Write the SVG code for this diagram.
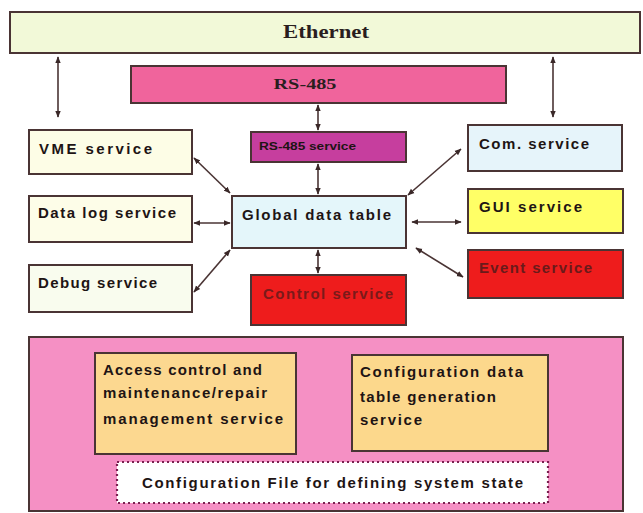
<svg xmlns="http://www.w3.org/2000/svg" width="643" height="513" viewBox="0 0 643 513">
<style>
.box{stroke:#4a3434;stroke-width:2}
.t{font-family:"Liberation Sans",Arial,sans-serif;font-weight:bold;font-size:15px;fill:#1e1414}
.s{font-family:"Liberation Serif","Times New Roman",serif;font-weight:bold;fill:#2a1e1e}
.c{stroke:#4a3434;stroke-width:1.6;fill:none;marker-start:url(#ah);marker-end:url(#ah)}
</style>
<defs>
<marker id="ah" viewBox="0 0 10 10" refX="9" refY="5" markerWidth="7" markerHeight="7" orient="auto-start-reverse" markerUnits="userSpaceOnUse">
<path d="M0,1 L10,5 L0,9 z" fill="#3a2828"/>
</marker>
</defs>
<rect width="643" height="513" fill="#ffffff"/>
<g id="ethernet"><rect class="box" x="10" y="12" width="630" height="41" fill="#f2f9d8"/><text class="s" x="326" y="38" font-size="18" text-anchor="middle" textLength="86" lengthAdjust="spacingAndGlyphs">Ethernet</text></g>
<g id="rs485"><rect class="box" x="131" y="66" width="375" height="37" fill="#f0649c"/><text class="s" x="305" y="89" font-size="15" text-anchor="middle" textLength="63" lengthAdjust="spacingAndGlyphs">RS-485</text></g>
<g id="rs485service"><rect class="box" x="251" y="132" width="155" height="30" fill="#c63e9e"/><text class="t" x="259" y="150" font-size="10" style="font-size:10px" textLength="97" lengthAdjust="spacingAndGlyphs">RS-485 service</text></g>
<g id="global"><rect class="box" x="232" y="196" width="174" height="52" fill="#e4f6fa"/><text class="t" x="242" y="220" textLength="149" lengthAdjust="spacing">Global data table</text></g>
<g id="control"><rect class="box" x="251" y="275" width="155" height="50" fill="#ee1c1c"/><text class="t" x="263" y="299" style="fill:#7a1a1a" textLength="130" lengthAdjust="spacing">Control service</text></g>
<g id="vme"><rect class="box" x="29" y="130" width="163" height="44" fill="#fdfde6"/><text class="t" x="39" y="154" textLength="113" lengthAdjust="spacing">VME service</text></g>
<g id="datalog"><rect class="box" x="29" y="196" width="163" height="46" fill="#fdfde8"/><text class="t" x="38" y="218" textLength="138" lengthAdjust="spacing">Data log service</text></g>
<g id="debug"><rect class="box" x="29" y="265" width="163" height="47" fill="#f9fcee"/><text class="t" x="38" y="288" textLength="119" lengthAdjust="spacing">Debug service</text></g>
<g id="com"><rect class="box" x="468" y="125" width="154" height="46" fill="#e6f4fa"/><text class="t" x="479" y="149" textLength="110" lengthAdjust="spacing">Com. service</text></g>
<g id="gui"><rect class="box" x="468" y="189" width="155" height="44" fill="#ffff66"/><text class="t" x="479" y="212" textLength="103" lengthAdjust="spacing">GUI service</text></g>
<g id="event"><rect class="box" x="468" y="250" width="155" height="48" fill="#ee1c1c"/><text class="t" x="479" y="273" style="fill:#6a1a1a" textLength="113" lengthAdjust="spacing">Event service</text></g>
<g id="maintenance"><rect class="box" x="29" y="337" width="594" height="174" fill="#f590c4"/></g>
<g id="access"><rect class="box" x="95" y="353" width="201" height="101" fill="#fcd890"/>
<text class="t" x="103" y="375" textLength="159" lengthAdjust="spacing">Access control and</text>
<text class="t" x="103" y="398" textLength="164" lengthAdjust="spacing">maintenance/repair</text>
<text class="t" x="103" y="424" textLength="180" lengthAdjust="spacing">management service</text></g>
<g id="configdata"><rect class="box" x="352" y="355" width="196" height="96" fill="#fcd88c"/>
<text class="t" x="360" y="377" textLength="163" lengthAdjust="spacing">Configuration data</text>
<text class="t" x="360" y="402" textLength="136" lengthAdjust="spacing">table generation</text>
<text class="t" x="360" y="425" textLength="62" lengthAdjust="spacing">service</text></g>
<g id="configfile"><rect x="117" y="462" width="431" height="41" fill="#ffffff" stroke="#7a2050" stroke-width="2.2" stroke-dasharray="2 3"/>
<text class="t" x="142" y="488" textLength="381" lengthAdjust="spacing">Configuration File for defining system state</text></g>
<g id="connectors">
<line class="c" x1="58" y1="57" x2="58" y2="117"/>
<line class="c" x1="553" y1="57" x2="553" y2="117"/>
<line class="c" x1="318" y1="105" x2="318" y2="130"/>
<line class="c" x1="318" y1="164" x2="318" y2="194"/>
<line class="c" x1="318" y1="250" x2="318" y2="273"/>
<line class="c" x1="194" y1="158" x2="230" y2="193"/>
<line class="c" x1="194" y1="223" x2="230" y2="223"/>
<line class="c" x1="194" y1="292" x2="230" y2="250"/>
<line class="c" x1="461" y1="149" x2="408" y2="195"/>
<line class="c" x1="412" y1="222" x2="461" y2="222"/>
<line class="c" x1="416" y1="248" x2="463" y2="277"/>
</g>
</svg>
